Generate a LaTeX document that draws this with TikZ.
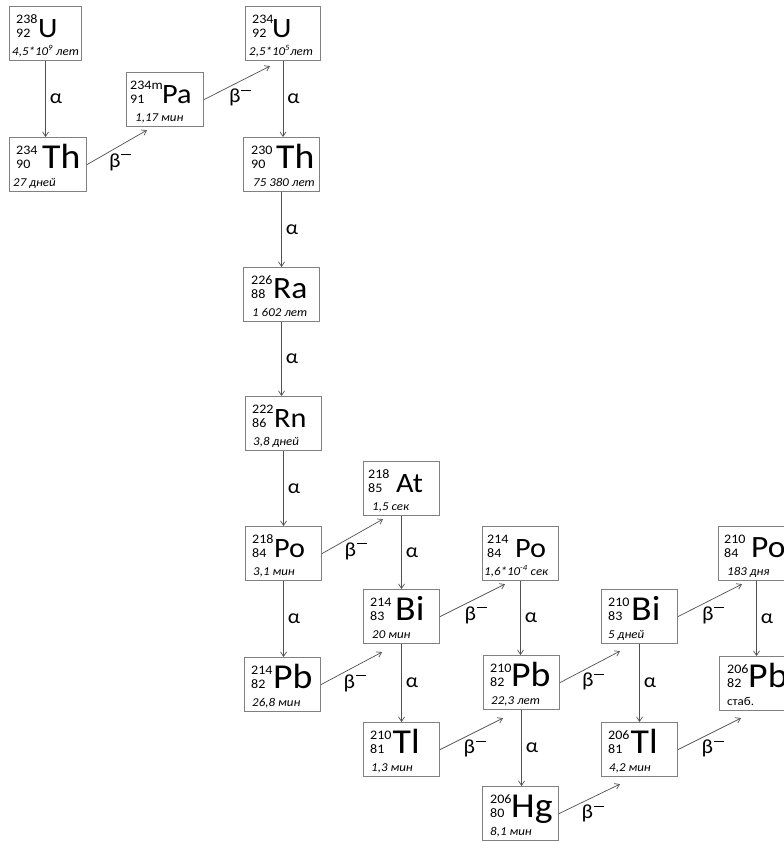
\documentclass[tikz,border=0pt]{standalone}
\usepackage{fontspec}
\setmainfont{Carlito}[FakeStretch=1.08]
\usetikzlibrary{arrows.meta,calc}

\definecolor{boxgray}{RGB}{128,128,128}
\definecolor{arrgray}{RGB}{80,80,80}

\newcommand\symS{\fontsize{28}{28}\selectfont}
\newcommand\symM{\fontsize{31}{31}\selectfont}
\newcommand\symL{\fontsize{35}{35}\selectfont}
\newcommand\betaminus{β\kern0.6pt\rule[12.5pt]{10pt}{0.9pt}}

\pgfkeys{/iso/.cd,
  w/.store in=\isoW, sx/.store in=\isoSX, tx/.store in=\isoTX,
  f/.store in=\isoF, mx/.store in=\isoMX}

\newcommand\iso[7]{%
  \pgfkeys{/iso/.cd, w=76, sx=31, tx=8, mx=7, f=\symS, #3}%
  \node[isobox, minimum width=\isoW pt] (#1) at (#2) {};
  \node[numtxt] (#1-a) at ($(#1.north west)+(\isoMX,17)$) {#4};
  \node[numtxt] (#1-z) at ($(#1.north west)+(\isoMX,31)$) {#5};
  \node[anchor=base west, inner sep=0pt, font=\isoF] (#1-s) at ($(#1.north west)+(\isoSX,31)$) {#6};
  \node[hltxt] (#1-t) at ($(#1.north west)+(\isoTX,49)$) {#7};
}

\tikzset{
  isobox/.style={draw=boxgray, line width=1.1pt, anchor=north west,
    minimum height=54pt, inner sep=0pt},
  numtxt/.style={anchor=base west, inner sep=0pt, font=\fontsize{13}{13}\selectfont},
  hltxt/.style={anchor=base west, inner sep=0pt, font=\fontsize{12}{12}\selectfont\itshape},
  arr/.style={draw=arrgray, line width=0.7pt,
    -{Straight Barb[length=4.5pt,width=6pt]}},
  alab/.style={midway, right, inner xsep=4pt, inner ysep=0pt, font=\fontsize{20}{20}\selectfont},
  blab/.style={midway, xshift=3pt, yshift=-15pt, inner sep=0pt, font=\fontsize{20}{20}\selectfont},
}

\begin{document}
\begin{tikzpicture}[x=1pt,y=-1pt]
\useasboundingbox (0,0) rectangle (784,841);
\clip (0,0) rectangle (784,841);
\fill[white] (0,0) rectangle (784,841);

\iso{U238}{9,6}{w=72, sx=29, tx=3}{238}{92}{U}{4,5*10\textsuperscript{9} лет}
\iso{Th234}{9,137}{w=77, sx=33, tx=4, f=\symL}{234}{90}{Th}{27 дней}
\iso{Pa}{126,72}{w=77, sx=36, mx=4, tx=9}{234m}{91}{Pa}{1,17 мин}
\iso{U234}{245,6}{w=75, sx=27, mx=7, tx=4}{234}{92}{U}{2,5*10\textsuperscript{5}лет}
\iso{Th230}{243,137}{sx=33, mx=8, tx=10, f=\symL}{230}{90}{Th}{75 380 лет}
\iso{Ra}{243,267}{sx=30, mx=8, tx=9, f=\symM}{226}{88}{Ra}{1 602 лет}
\iso{Rn}{245,396}{sx=29}{222}{86}{Rn}{3,8 дней}
\iso{At}{363,461}{sx=33, mx=5, tx=9}{218}{85}{At}{1,5 сек}
\iso{Po218}{245,526}{sx=29}{218}{84}{Po}{3,1 мин}
\iso{Po214}{482,526}{sx=33, mx=5, tx=2}{214}{84}{Po}{1,6*10\textsuperscript{-4} сек}
\iso{Bi214}{363,589}{sx=32, tx=9, f=\symL}{214}{83}{Bi}{20 мин}
\iso{Pb214}{244,657}{sx=29, tx=8, f=\symL}{214}{82}{Pb}{26,8 мин}
\iso{Tl210}{363,722}{sx=29.5, tx=8, f=\symL}{210}{81}{Tl}{1,3 мин}
\iso{Pb210}{483,655}{sx=28, f=\symL}{210}{82}{Pb}{22,3 лет}
\iso{Hg}{482,786}{sx=29, mx=8, f=\symL}{206}{80}{Hg}{8,1 мин}
\iso{Bi210}{601,589}{sx=30, tx=7, f=\symL}{210}{83}{Bi}{5 дней}
\iso{Tl206}{601,722}{sx=29.5, f=\symL}{206}{81}{Tl}{4,2 мин}
\iso{Po210}{718,526}{sx=33, mx=6, tx=9, f=\symM}{210}{84}{Po}{183 дня}
\iso{Pb206}{719,656}{sx=29, mx=8, f=\symL}{206}{82}{Pb}{\upshape стаб.}

% alpha decays
\draw[arr] (U238.south) -- (U238.south |- Th234.north) node[alab]{α};
\draw[arr] (U234.south) -- (U234.south |- Th230.north) node[alab]{α};
\draw[arr] (Th230.south) -- (Th230.south |- Ra.north) node[alab]{α};
\draw[arr] (Ra.south) -- (Ra.south |- Rn.north) node[alab]{α};
\draw[arr] (Rn.south) -- (Rn.south |- Po218.north) node[alab]{α};
\draw[arr] (Po218.south) -- (Po218.south |- Pb214.north) node[alab]{α};
\draw[arr] (At.south) -- (At.south |- Bi214.north) node[alab]{α};
\draw[arr] (Bi214.south) -- (Bi214.south |- Tl210.north) node[alab]{α};
\draw[arr] (Po214.south) -- (Po214.south |- Pb210.north) node[alab]{α};
\draw[arr] (Pb210.south) -- (Pb210.south |- Hg.north) node[alab]{α};
\draw[arr] (Bi210.south) -- (Bi210.south |- Tl206.north) node[alab]{α};
\draw[arr] (Po210.south) -- (Po210.south |- Pb206.north) node[alab]{α};

% beta decays
\draw[arr] (Th234.east) -- ($(Pa.south west)+(21,3)$) node[blab]{\betaminus};
\draw[arr] (Pa.east) -- ($(U234.south west)+(25,5)$) node[blab]{\betaminus};
\draw[arr] (Po218.east) -- ($(At.south west)+(20,3)$) node[blab]{\betaminus};
\draw[arr] (Bi214.east) -- ($(Po214.south west)+(23,3)$) node[blab]{\betaminus};
\draw[arr] (Pb214.east) -- ($(Bi214.south west)+(19,8)$) node[blab]{\betaminus};
\draw[arr] (Tl210.east) -- ($(Pb210.south west)+(20,8)$) node[blab]{\betaminus};
\draw[arr] (Pb210.east) -- ($(Bi210.south west)+(19,7)$) node[blab]{\betaminus};
\draw[arr] (Bi210.east) -- ($(Po210.south west)+(24,3)$) node[blab]{\betaminus};
\draw[arr] (Tl206.east) -- ($(Pb206.south west)+(22,7)$) node[blab]{\betaminus};
\draw[arr] (Hg.east) -- ($(Tl206.south west)+(19,7)$) node[blab]{\betaminus};
\end{tikzpicture}
\end{document}
